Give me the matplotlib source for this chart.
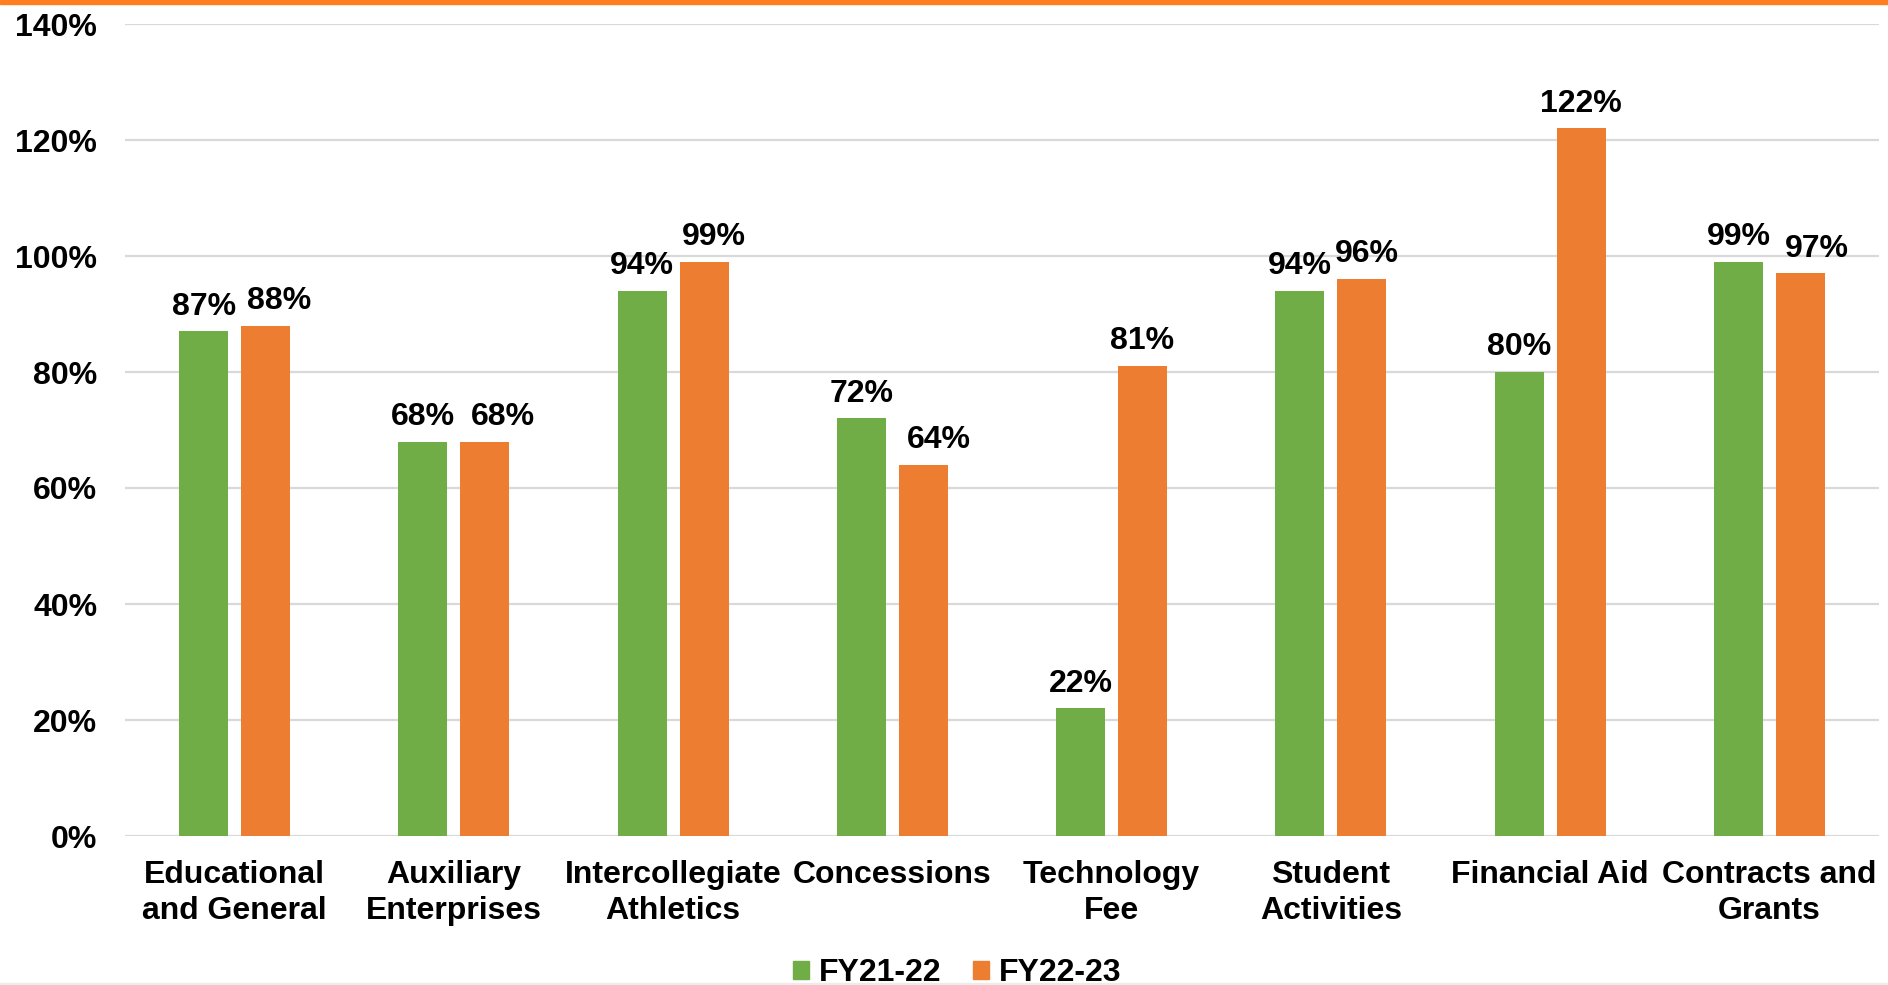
import matplotlib
matplotlib.use("Agg")
import matplotlib.pyplot as plt
from matplotlib.patches import Patch, Rectangle
import numpy as np

categories = ["Educational\nand General", "Auxiliary\nEnterprises", "Intercollegiate\nAthletics",
              "Concessions", "Technology\nFee", "Student\nActivities", "Financial Aid",
              "Contracts and\nGrants"]
fy21_22 = [87, 68, 94, 72, 22, 94, 80, 99]
fy22_23 = [88, 68, 99, 64, 81, 96, 122, 97]
series_names = ["FY21-22", "FY22-23"]
yticks = [0, 20, 40, 60, 80, 100, 120, 140]

# horizontal nudges (points) of the FY22-23 labels, as placed in the original
label_shift_22_23 = [10, 13, 7, 11, 0, 4, 0, 12]

green = "#70AD47"
orange = "#ED7D31"

plt.rcParams['font.family'] = ['Liberation Sans', 'DejaVu Sans']
plt.rcParams['font.weight'] = 'bold'
FS = 23

fig = plt.figure(figsize=(18.88, 9.85), dpi=100)
ax = fig.add_axes([125/1888, 1-836/985, (1879-125)/1888, (836-24)/985])

x = np.arange(len(categories))
w = 0.2235
off = 0.141
b1 = ax.bar(x - off, fy21_22, width=w, color=green, zorder=3)
b2 = ax.bar(x + off, fy22_23, width=w, color=orange, zorder=3)

for bars, vals, shifts in ((b1, fy21_22, [0]*len(fy21_22)), (b2, fy22_23, label_shift_22_23)):
    for rect, v, s in zip(bars, vals, shifts):
        ax.annotate(f"{v}%", (rect.get_x() + rect.get_width()/2, v),
                    xytext=(s, 7), textcoords="offset points",
                    ha="center", va="bottom", fontsize=FS, fontweight="bold")

ax.set_xlim(-0.5, len(categories) - 0.5)
ax.set_ylim(0, 140)
ax.set_yticks(yticks)
ax.set_yticklabels([f"{t}%" for t in yticks], fontsize=FS, fontweight="bold")
ax.set_xticks(x)
ax.set_xticklabels(categories, fontsize=FS, fontweight="bold", linespacing=1.27)
ax.tick_params(axis="both", length=0)
ax.tick_params(axis="y", pad=20)
ax.tick_params(axis="x", pad=17)
ax.grid(axis="y", color="#d9d9d9", linewidth=1.6, zorder=0)
for s in ax.spines.values():
    s.set_visible(False)

handles = [Patch(color=green, label=series_names[0]), Patch(color=orange, label=series_names[1])]
fig.legend(handles=handles, loc="center", bbox_to_anchor=(957/1888, 1-973/985), ncol=2,
           frameon=False, handlelength=0.5, handleheight=0.5,
           handletextpad=0.3, columnspacing=1.0, prop={'weight': 'bold', 'size': FS})

# decorative top band and bottom border
fig.add_artist(Rectangle((0, 1-4/985), 1, 4/985, transform=fig.transFigure, color="#FF7F1F", zorder=5))
fig.add_artist(Rectangle((0, 0), 1, 2/985, transform=fig.transFigure, color="#ececec", zorder=5))

fig.savefig("out.png", dpi=100)
